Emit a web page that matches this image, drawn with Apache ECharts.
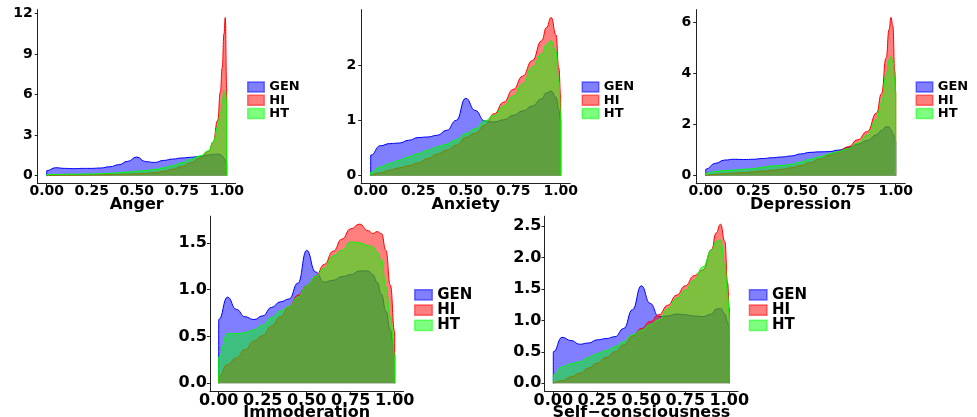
<!DOCTYPE html>
<html>
<head>
<meta charset="utf-8">
<script src="https://cdn.jsdelivr.net/npm/echarts@6/dist/echarts.min.js"></script>
<style>
html,body{margin:0;padding:0;background:#fff;}
#chart{width:977px;height:417px;}
</style>
</head>
<body>
<div id="chart"></div>
<script>
// ---------- data ----------
const groups = ['GEN', 'HI', 'HT'];
const xTicks = [0, 0.25, 0.5, 0.75, 1];

const angerX   = [0,0.05,0.1,0.15,0.2,0.25,0.3,0.35,0.4,0.45,0.5,0.55,0.6,0.65,0.7,0.75,0.8,0.85,0.9,0.925,0.95,0.965,0.975,0.985,0.992,1];
const angerGEN = [0.37,0.59,0.54,0.52,0.54,0.54,0.57,0.66,0.81,1.06,1.38,1.04,0.98,1.13,1.23,1.31,1.36,1.43,1.53,1.58,1.6,1.56,1.45,1.3,1.15,0.9];
const angerHI  = [0.02,0.03,0.04,0.05,0.05,0.06,0.07,0.08,0.1,0.12,0.14,0.17,0.22,0.32,0.48,0.68,0.95,1.3,1.8,2.5,4.1,6.2,8.0,10.5,11.7,6.5];
const angerHT  = [0.08,0.09,0.1,0.11,0.12,0.13,0.15,0.18,0.22,0.27,0.33,0.38,0.46,0.58,0.75,0.95,1.2,1.45,1.85,2.5,3.6,4.6,5.4,6.3,6.2,5.5];
const angerTicks = [0, 3, 6, 9, 12];

const anxX   = [0,0.05,0.1,0.15,0.2,0.25,0.3,0.35,0.4,0.45,0.5,0.55,0.6,0.65,0.7,0.75,0.8,0.85,0.9,0.925,0.95,0.975,0.99,1];
const anxGEN = [0.37,0.54,0.58,0.59,0.64,0.69,0.7,0.73,0.82,1.0,1.4,1.18,0.99,0.97,1.01,1.09,1.17,1.26,1.39,1.5,1.53,1.42,1.2,1.0];
const anxHI  = [0.01,0.05,0.1,0.14,0.18,0.23,0.31,0.39,0.46,0.55,0.69,0.77,0.91,1.12,1.33,1.56,1.8,2.08,2.44,2.68,2.86,2.55,1.95,1.46];
const anxHT  = [0.06,0.16,0.22,0.28,0.34,0.4,0.46,0.52,0.57,0.65,0.76,0.85,0.99,1.09,1.26,1.44,1.66,1.96,2.2,2.37,2.44,2.25,1.7,1.1];
const anxTicks = [0, 1, 2];

const depX   = [0,0.05,0.1,0.15,0.2,0.25,0.3,0.35,0.4,0.45,0.5,0.55,0.6,0.65,0.7,0.75,0.8,0.85,0.9,0.925,0.95,0.965,0.975,0.985,0.995,1];
const depGEN = [0.25,0.48,0.61,0.64,0.63,0.64,0.67,0.7,0.73,0.77,0.85,0.91,0.93,0.94,1.0,1.1,1.23,1.37,1.6,1.76,1.91,1.9,1.8,1.65,1.45,1.33];
const depHI  = [0.01,0.05,0.08,0.1,0.12,0.15,0.18,0.21,0.25,0.31,0.39,0.51,0.65,0.8,0.94,1.13,1.4,1.72,2.45,3.2,4.6,5.7,6.17,5.85,4.1,3.3];
const depHT  = [0.09,0.16,0.2,0.22,0.25,0.27,0.33,0.38,0.4,0.44,0.53,0.64,0.74,0.85,0.94,1.06,1.27,1.58,2.2,2.85,3.95,4.5,4.65,4.45,3.7,3.2];
const depTicks = [0, 2, 4, 6];

const immX   = [0,0.05,0.1,0.15,0.2,0.25,0.3,0.35,0.4,0.45,0.5,0.55,0.6,0.65,0.7,0.75,0.8,0.85,0.875,0.9,0.925,0.95,0.975,1];
const immGEN = [0.68,0.92,0.79,0.71,0.68,0.72,0.81,0.87,0.9,1.07,1.42,1.19,1.08,1.1,1.14,1.16,1.2,1.2,1.16,1.08,0.95,0.77,0.57,0.3];
const immHI  = [0.07,0.2,0.27,0.36,0.45,0.51,0.61,0.71,0.82,0.94,1.04,1.14,1.27,1.41,1.54,1.65,1.7,1.63,1.6,1.62,1.6,1.42,1.05,0.55];
const immHT  = [0.28,0.53,0.53,0.54,0.57,0.62,0.7,0.77,0.82,0.92,1.04,1.14,1.23,1.36,1.42,1.51,1.5,1.47,1.46,1.4,1.32,1.03,0.72,0.3];
const immTicks = [0, 0.5, 1, 1.5];

const selfX   = [0,0.05,0.1,0.15,0.2,0.25,0.3,0.35,0.4,0.45,0.5,0.55,0.6,0.65,0.7,0.75,0.8,0.85,0.9,0.925,0.95,0.975,0.99,1];
const selfGEN = [0.5,0.73,0.68,0.62,0.64,0.69,0.71,0.74,0.87,1.17,1.55,1.27,1.06,1.07,1.1,1.09,1.07,1.06,1.1,1.18,1.19,1.1,0.97,0.87];
const selfHI  = [0.01,0.04,0.1,0.16,0.24,0.32,0.41,0.5,0.61,0.75,0.87,0.98,1.09,1.24,1.4,1.55,1.71,1.8,2.13,2.39,2.53,2.25,1.6,1.2];
const selfHT  = [0.13,0.26,0.31,0.34,0.41,0.47,0.52,0.58,0.66,0.77,0.84,0.93,1.01,1.18,1.35,1.48,1.64,1.85,2.12,2.25,2.28,1.88,1.4,1.09];
const selfTicks = [0, 0.5, 1, 1.5, 2, 2.5];

// ---------- layout / style ----------
const FONT = 'DejaVu Sans';
const fills = {GEN: '#0000ff', HI: '#ff0000', HT: '#00ff00'};

const panels = [
  {name: 'Anger', x: angerX, vals: [angerGEN, angerHI, angerHT], ticks: angerTicks, dec: 0,
   grid: {left: 37.7, top: 9.6, width: 198, height: 174}, legend: {left: 247, top: 80.5}, row: 0},
  {name: 'Anxiety', x: anxX, vals: [anxGEN, anxHI, anxHT], ticks: anxTicks, dec: 0,
   grid: {left: 361.2, top: 9.6, width: 209, height: 174}, legend: {left: 581.5, top: 80.5}, row: 0},
  {name: 'Depression', x: depX, vals: [depGEN, depHI, depHT], ticks: depTicks, dec: 0,
   grid: {left: 696.2, top: 9.6, width: 209, height: 174}, legend: {left: 915.5, top: 80.5}, row: 0},
  {name: 'Immoderation', x: immX, vals: [immGEN, immHI, immHT], ticks: immTicks, dec: 1,
   grid: {left: 209.9, top: 216.2, width: 193.6, height: 175}, legend: {left: 414, top: 287.3}, row: 1},
  {name: 'Self\u2212consciousness', x: selfX, vals: [selfGEN, selfHI, selfHT], ticks: selfTicks, dec: 1,
   grid: {left: 544.5, top: 216.2, width: 193.6, height: 175}, legend: {left: 748.7, top: 287.3}, row: 1}
];

const grids = [], xAxes = [], yAxes = [], series = [], legends = [];
panels.forEach((p, i) => {
  const big = p.row === 1;
  grids.push(Object.assign({outerBoundsMode: 'none', containLabel: false}, p.grid));
  let ymax = 0;
  p.vals.forEach(v => v.forEach(d => { if (d > ymax) ymax = d; }));
  xAxes.push({
    type: 'value', gridIndex: i, min: -0.05, max: 1.05,
    name: p.name, nameLocation: 'middle', nameGap: big ? 14 : 13.5, nameMoveOverlap: false,
    nameTextStyle: {fontFamily: FONT, fontWeight: 'bold', fontSize: 16, color: '#000'},
    splitLine: {show: false},
    axisLine: {show: true, onZero: false, lineStyle: {color: '#222', width: 1}},
    axisTick: {show: true, length: 3, customValues: xTicks, lineStyle: {color: '#222'}},
    axisLabel: {customValues: xTicks, margin: big ? 2 : 1, color: '#000', fontFamily: FONT,
                fontWeight: 'bold', fontSize: big ? 16 : 14,
                formatter: v => Number(v).toFixed(2)}
  });
  yAxes.push({
    type: 'value', gridIndex: i, min: -0.05 * ymax, max: 1.05 * ymax,
    splitLine: {show: false},
    axisLine: {show: true, onZero: false, lineStyle: {color: '#222', width: 1}},
    axisTick: {show: true, length: 3, customValues: p.ticks, lineStyle: {color: '#222'}},
    axisLabel: {customValues: p.ticks, margin: big ? 3 : 5, color: '#000', fontFamily: FONT,
                fontWeight: 'bold', fontSize: big ? 16 : 14,
                formatter: v => Number(v).toFixed(p.dec)}
  });
  groups.forEach((g, k) => {
    const vals = p.vals[k];
    const data = [[p.x[0], 0]];
    p.x.forEach((x, j) => data.push([x, vals[j]]));
    data.push([p.x[p.x.length - 1], 0]);
    series.push({
      type: 'line', name: g, xAxisIndex: i, yAxisIndex: i, data: data,
      z: 2 + k,
      symbol: 'none', smooth: 0.5, smoothMonotone: 'x',
      lineStyle: {color: fills[g], width: 1},
      itemStyle: {color: fills[g]},
      areaStyle: {color: fills[g], opacity: 0.5},
      emphasis: {disabled: true}
    });
  });
  legends.push({
    orient: 'vertical', left: p.legend.left, top: p.legend.top, padding: 0,
    itemWidth: big ? 17.5 : 16.5, itemHeight: big ? 10.3 : 10, itemGap: 0.3,
    icon: 'rect',
    textStyle: {fontFamily: FONT, fontWeight: 'bold', fontSize: big ? 15 : 13, color: '#000',
                lineHeight: big ? 11.3 : 11},
    data: groups.map(g => ({name: g, itemStyle: {color: fills[g], opacity: 0.5, borderColor: fills[g], borderWidth: 1.5}}))
  });
});

const chart = echarts.init(document.getElementById('chart'), null, {renderer: 'canvas'});
chart.setOption({
  animation: false,
  backgroundColor: '#fff',
  grid: grids, xAxis: xAxes, yAxis: yAxes, series: series, legend: legends
});
</script>
</body>
</html>
